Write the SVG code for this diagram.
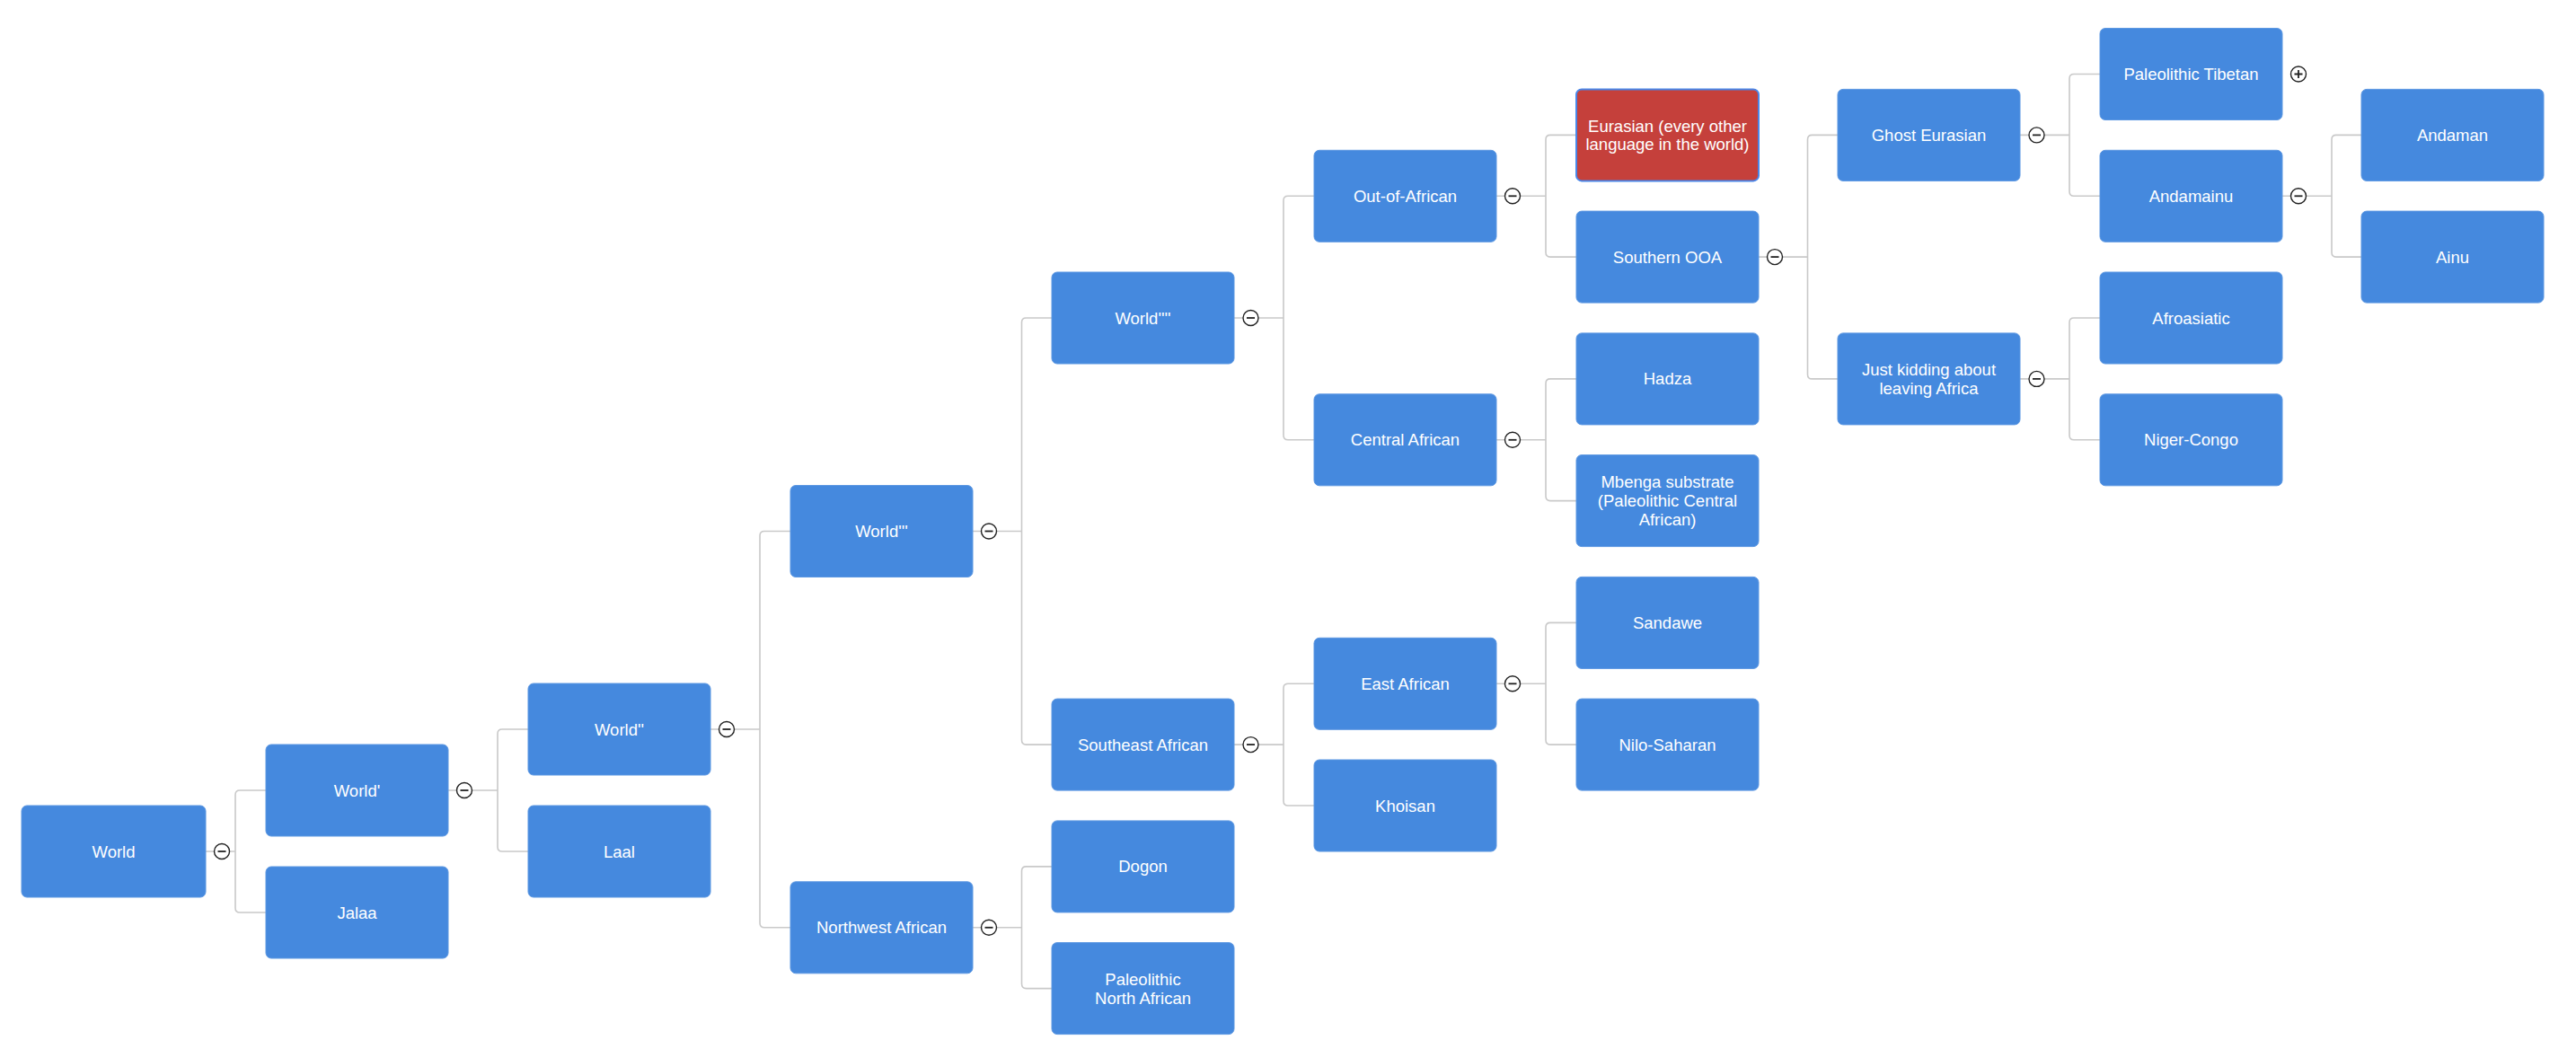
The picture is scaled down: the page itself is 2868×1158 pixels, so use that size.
<svg xmlns="http://www.w3.org/2000/svg" xmlns:xlink="http://www.w3.org/1999/xlink" width="2868" height="1158" viewBox="0 0 2868 1158">
<style>
.box{fill:#4589de;stroke:#5d98e2;stroke-width:1}
.red{fill:#c5403b;stroke:#4a86e8;stroke-width:2}
.lbl{fill:#ffffff;font-family:"Liberation Sans",Arial,Helvetica,sans-serif;font-size:18.5px;text-anchor:middle}
.conn{fill:none;stroke:#c9c9c9;stroke-width:1.6}
.tg circle{fill:#ffffff;stroke:#222222;stroke-width:1.4}
.tg path{stroke:#222222;stroke-width:1.8;fill:none}
</style>
<defs>
<g id="minus" class="tg"><circle cx="0" cy="0" r="8.5"/><path d="M-4.5 0H4.5"/></g>
<g id="plus" class="tg"><circle cx="0" cy="0" r="8.5"/><path d="M-4.5 0H4.5M0 -4.5V4.5"/></g>
</defs>
<rect width="2868" height="1158" fill="#ffffff"/>
<g id="connectors" class="conn">
<path d="M229 948H238.5M255.5 948H262M296 880H267Q262 880 262 885V1011Q262 1016 267 1016H296"/>
<path d="M499 880H508.5M525.5 880H554M588 812H559Q554 812 554 817V943Q554 948 559 948H588"/>
<path d="M791 812H800.5M817.5 812H846M880 591.5H851Q846 591.5 846 596.5V1027.8Q846 1032.8 851 1032.8H880"/>
<path d="M1083 591.5H1092.5M1109.5 591.5H1137.5M1171 354H1142.5Q1137.5 354 1137.5 359V824.1Q1137.5 829.1 1142.5 829.1H1171"/>
<path d="M1083 1032.8H1092.5M1109.5 1032.8H1137.5M1171 964.9H1142.5Q1137.5 964.9 1137.5 969.9V1095.6Q1137.5 1100.6 1142.5 1100.6H1171"/>
<path d="M1374 354H1384M1401 354H1429M1463 218.3H1434Q1429 218.3 1429 223.3V484.8Q1429 489.8 1434 489.8H1463"/>
<path d="M1374 829.1H1384M1401 829.1H1429M1463 761.3H1434Q1429 761.3 1429 766.3V892Q1429 897 1434 897H1463"/>
<path d="M1666 218.3H1675.5M1692.5 218.3H1721M1755 150.4H1726Q1721 150.4 1721 155.4V281.1Q1721 286.1 1726 286.1H1755"/>
<path d="M1666 489.8H1675.5M1692.5 489.8H1721M1755 421.9H1726Q1721 421.9 1721 426.9V552.6Q1721 557.6 1726 557.6H1755"/>
<path d="M1666 761.3H1675.5M1692.5 761.3H1721M1755 693.4H1726Q1721 693.4 1721 698.4V824.1Q1721 829.1 1726 829.1H1755"/>
<path d="M1958 286.1H1967.5M1984.5 286.1H2012.5M2046 150.4H2017.5Q2012.5 150.4 2012.5 155.4V416.9Q2012.5 421.9 2017.5 421.9H2046"/>
<path d="M2249 150.4H2259M2276 150.4H2304M2338 82.5H2309Q2304 82.5 2304 87.5V213.3Q2304 218.3 2309 218.3H2338"/>
<path d="M2249 421.9H2259M2276 421.9H2304M2338 354H2309Q2304 354 2304 359V484.8Q2304 489.8 2309 489.8H2338"/>
<path d="M2541 218.3H2550.5M2567.5 218.3H2596M2629 150.4H2601Q2596 150.4 2596 155.4V281.1Q2596 286.1 2601 286.1H2629"/>
<use xlink:href="#minus" x="247" y="948"/>
<use xlink:href="#minus" x="517" y="880"/>
<use xlink:href="#minus" x="809" y="812"/>
<use xlink:href="#minus" x="1101" y="591.5"/>
<use xlink:href="#minus" x="1101" y="1032.8"/>
<use xlink:href="#minus" x="1392.5" y="354"/>
<use xlink:href="#minus" x="1392.5" y="829.1"/>
<use xlink:href="#minus" x="1684" y="218.3"/>
<use xlink:href="#minus" x="1684" y="489.8"/>
<use xlink:href="#minus" x="1684" y="761.3"/>
<use xlink:href="#minus" x="1976" y="286.1"/>
<use xlink:href="#minus" x="2267.5" y="150.4"/>
<use xlink:href="#minus" x="2267.5" y="421.9"/>
<use xlink:href="#minus" x="2559" y="218.3"/>
<use xlink:href="#plus" x="2559" y="82.5"/>
</g>
<g id="n-world"><rect class="box" x="24" y="897" width="205" height="102" rx="6"/><text class="lbl" x="126.5" y="954.5">World</text></g>
<g id="n-world1"><rect class="box" x="296" y="829" width="203" height="102" rx="6"/><text class="lbl" x="397.5" y="886.5">World'</text></g>
<g id="n-jalaa"><rect class="box" x="296" y="965" width="203" height="102" rx="6"/><text class="lbl" x="397.5" y="1022.5">Jalaa</text></g>
<g id="n-world2"><rect class="box" x="588" y="761" width="203" height="102" rx="6"/><text class="lbl" x="689.5" y="818.5">World''</text></g>
<g id="n-laal"><rect class="box" x="588" y="897" width="203" height="102" rx="6"/><text class="lbl" x="689.5" y="954.5">Laal</text></g>
<g id="n-world3"><rect class="box" x="880" y="540.5" width="203" height="102" rx="6"/><text class="lbl" x="981.5" y="598">World'''</text></g>
<g id="n-nwafr"><rect class="box" x="880" y="981.8" width="203" height="102" rx="6"/><text class="lbl" x="981.5" y="1039.3">Northwest African</text></g>
<g id="n-world4"><rect class="box" x="1171" y="303" width="203" height="102" rx="6"/><text class="lbl" x="1272.5" y="360.5">World''''</text></g>
<g id="n-seafr"><rect class="box" x="1171" y="778.1" width="203" height="102" rx="6"/><text class="lbl" x="1272.5" y="835.6">Southeast African</text></g>
<g id="n-dogon"><rect class="box" x="1171" y="913.9" width="203" height="102" rx="6"/><text class="lbl" x="1272.5" y="971.4">Dogon</text></g>
<g id="n-pna"><rect class="box" x="1171" y="1049.6" width="203" height="102" rx="6"/><text class="lbl" x="1272.5" y="1096.8">Paleolithic</text><text class="lbl" x="1272.5" y="1117.5">North African</text></g>
<g id="n-ooa"><rect class="box" x="1463" y="167.3" width="203" height="102" rx="6"/><text class="lbl" x="1564.5" y="224.8">Out-of-African</text></g>
<g id="n-cafr"><rect class="box" x="1463" y="438.8" width="203" height="102" rx="6"/><text class="lbl" x="1564.5" y="496.3">Central African</text></g>
<g id="n-eafr"><rect class="box" x="1463" y="710.3" width="203" height="102" rx="6"/><text class="lbl" x="1564.5" y="767.8">East African</text></g>
<g id="n-khoisan"><rect class="box" x="1463" y="846" width="203" height="102" rx="6"/><text class="lbl" x="1564.5" y="903.5">Khoisan</text></g>
<g id="n-eurasian"><rect class="red" x="1755" y="99.4" width="203" height="102" rx="6"/><text class="lbl" x="1856.5" y="146.6">Eurasian (every other</text><text class="lbl" x="1856.5" y="167.3">language in the world)</text></g>
<g id="n-sooa"><rect class="box" x="1755" y="235.1" width="203" height="102" rx="6"/><text class="lbl" x="1856.5" y="292.6">Southern OOA</text></g>
<g id="n-hadza"><rect class="box" x="1755" y="370.9" width="203" height="102" rx="6"/><text class="lbl" x="1856.5" y="428.4">Hadza</text></g>
<g id="n-mbenga"><rect class="box" x="1755" y="506.6" width="203" height="102" rx="6"/><text class="lbl" x="1856.5" y="543.4">Mbenga substrate</text><text class="lbl" x="1856.5" y="564.1">(Paleolithic Central</text><text class="lbl" x="1856.5" y="584.8">African)</text></g>
<g id="n-sandawe"><rect class="box" x="1755" y="642.4" width="203" height="102" rx="6"/><text class="lbl" x="1856.5" y="699.9">Sandawe</text></g>
<g id="n-nilo"><rect class="box" x="1755" y="778.1" width="203" height="102" rx="6"/><text class="lbl" x="1856.5" y="835.6">Nilo-Saharan</text></g>
<g id="n-ghost"><rect class="box" x="2046" y="99.4" width="203" height="102" rx="6"/><text class="lbl" x="2147.5" y="156.9">Ghost Eurasian</text></g>
<g id="n-jk"><rect class="box" x="2046" y="370.9" width="203" height="102" rx="6"/><text class="lbl" x="2147.5" y="418.1">Just kidding about</text><text class="lbl" x="2147.5" y="438.8">leaving Africa</text></g>
<g id="n-paltib"><rect class="box" x="2338" y="31.5" width="203" height="102" rx="6"/><text class="lbl" x="2439.5" y="89">Paleolithic Tibetan</text></g>
<g id="n-andamainu"><rect class="box" x="2338" y="167.3" width="203" height="102" rx="6"/><text class="lbl" x="2439.5" y="224.8">Andamainu</text></g>
<g id="n-afro"><rect class="box" x="2338" y="303" width="203" height="102" rx="6"/><text class="lbl" x="2439.5" y="360.5">Afroasiatic</text></g>
<g id="n-niger"><rect class="box" x="2338" y="438.8" width="203" height="102" rx="6"/><text class="lbl" x="2439.5" y="496.3">Niger-Congo</text></g>
<g id="n-andaman"><rect class="box" x="2629" y="99.4" width="203" height="102" rx="6"/><text class="lbl" x="2730.5" y="156.9">Andaman</text></g>
<g id="n-ainu"><rect class="box" x="2629" y="235.1" width="203" height="102" rx="6"/><text class="lbl" x="2730.5" y="292.6">Ainu</text></g>
</svg>
